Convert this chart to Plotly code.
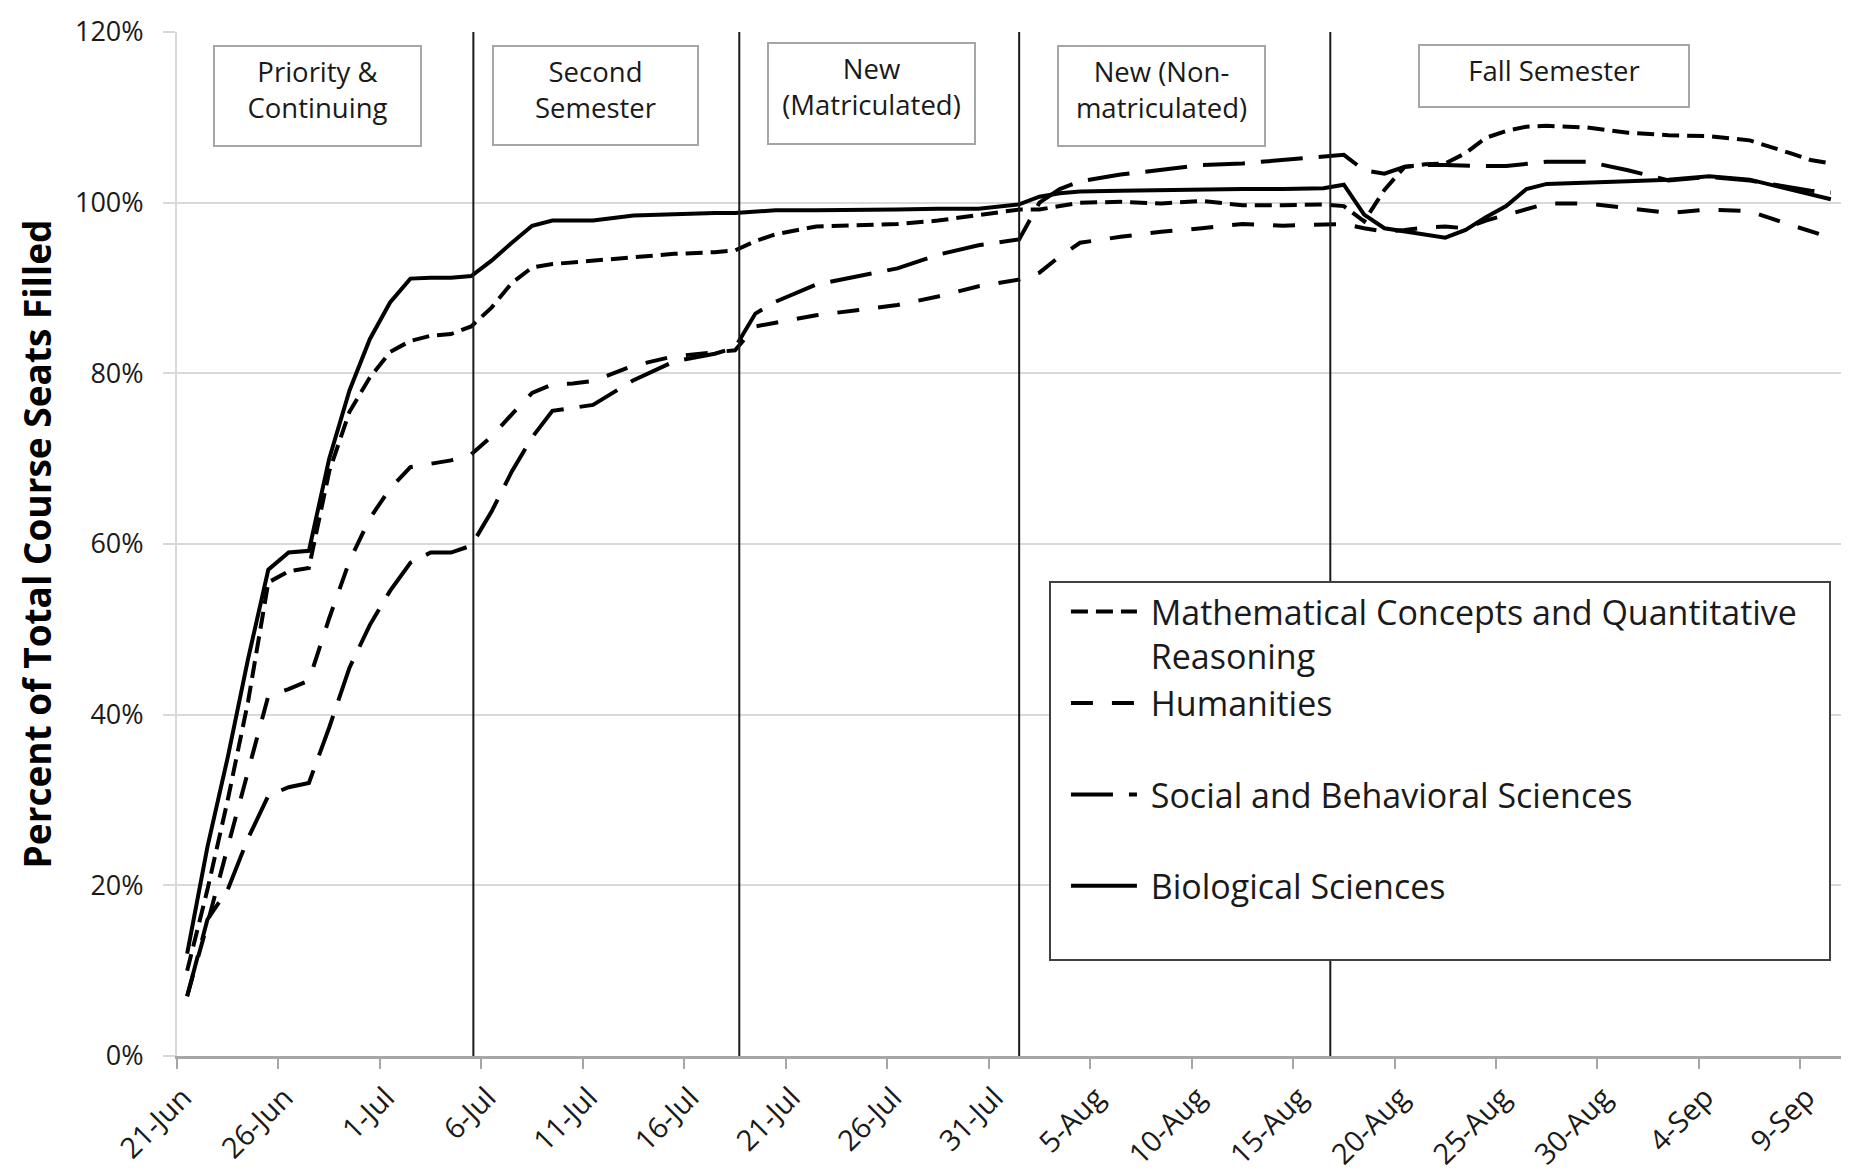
import pandas as pd
import plotly.graph_objects as go

# ---------------- data (percent of total course seats filled) ----------------
dates = [
    "2013-06-21", "2013-06-22", "2013-06-23", "2013-06-24", "2013-06-25", "2013-06-26",
    "2013-06-27", "2013-06-28", "2013-06-29", "2013-06-30", "2013-07-01", "2013-07-02",
    "2013-07-03", "2013-07-04", "2013-07-05", "2013-07-06", "2013-07-07", "2013-07-08",
    "2013-07-09", "2013-07-10", "2013-07-11", "2013-07-13", "2013-07-15", "2013-07-17",
    "2013-07-18", "2013-07-19", "2013-07-20", "2013-07-22", "2013-07-24", "2013-07-26",
    "2013-07-28", "2013-07-30", "2013-08-01", "2013-08-02", "2013-08-03", "2013-08-04",
    "2013-08-06", "2013-08-08", "2013-08-10", "2013-08-12", "2013-08-14", "2013-08-16",
    "2013-08-17", "2013-08-18", "2013-08-19", "2013-08-20", "2013-08-21", "2013-08-22",
    "2013-08-23", "2013-08-24", "2013-08-25", "2013-08-26", "2013-08-27", "2013-08-29",
    "2013-08-31", "2013-09-02", "2013-09-04", "2013-09-06", "2013-09-08", "2013-09-09",
    "2013-09-10",
]

math_quant = [
    10, 19.5, 30, 41.5, 55.5, 56.8, 57.2, 68.5, 75.5, 79.5, 82.5, 83.8, 84.4, 84.6, 85.5,
    87.7, 90.6, 92.4, 92.8, 93.0, 93.2,
    93.7, 94.0, 94.2, 94.4, 95.5, 96.3,
    97.2, 97.4, 97.5, 97.9, 98.6,
    99.2, 99.2, 99.6, 100.0,
    100.1, 99.9, 100.2, 99.7, 99.7, 99.8,
    99.6, 97.8, 101.5, 104.2, 104.5, 104.6, 105.8, 107.6, 108.4, 108.9, 109.0,
    108.8, 108.2, 107.9, 107.8, 107.3, 105.8, 105.0, 104.6,
]

humanities = [
    7, 15.5, 24.5, 33.5, 42.2, 43, 44, 51.3, 58, 63, 66.5, 69, 69.4, 69.8, 70.5,
    72.6, 75.2, 77.7, 78.7, 78.8, 79.1,
    80.9, 82.0, 82.4, 82.7, 85.5, 85.9,
    86.8, 87.4, 88.0, 89.0, 90.2,
    91.0, 91.8, 93.7, 95.3,
    96.0, 96.6, 97.0, 97.5, 97.3, 97.4,
    97.5, 97.0, 96.6, 96.8, 97.1, 97.2, 97.0, 97.9, 98.6, 99.3, 99.9,
    99.9, 99.3, 98.8, 99.2, 99.0, 97.4, 96.6, 95.9,
]

social_behav = [
    7, 16, 19.5, 25.5, 30.5, 31.5, 32, 38.5, 45.5, 50.5, 54.5, 57.8, 59, 59, 59.8,
    63.8, 68.5, 72.5, 75.6, 76, 76.3,
    79.2, 81.4, 82.3, 83.0, 87, 88.4,
    90.4, 91.3, 92.3, 93.9, 95.0,
    95.7, 100, 101.6, 102.5,
    103.3, 103.9, 104.4, 104.6, 105.0, 105.3,
    105.6, 103.8, 103.4, 104.2, 104.4, 104.4, 104.3, 104.3, 104.3, 104.6, 104.8,
    104.8, 103.8, 102.6, 103.0, 102.6, 101.8, 101.4, 101.2,
]

biological = [
    12, 24.5, 35, 46.5, 57, 59, 59.2, 70, 78, 84, 88.3, 91.1, 91.2, 91.2, 91.4,
    93.2, 95.3, 97.3, 97.9, 97.9, 97.9,
    98.5, 98.7, 98.8, 98.8, 99.0, 99.1,
    99.1, 99.1, 99.2, 99.3, 99.3,
    99.8, 100.7, 101.1, 101.3,
    101.4, 101.5, 101.5, 101.6, 101.6, 101.7,
    102.1, 98.6, 97.0, 96.6, 96.2, 95.9, 96.8, 98.3, 99.6, 101.6, 102.2,
    102.3, 102.5, 102.7, 103.1, 102.7, 101.6, 101.0, 100.4,
]

NB = "\u00a0"
series_names = [
    NB + "Mathematical Concepts and Quantitative" + NB * 3 + "<br>" + NB + "Reasoning",
    NB + "Humanities<br>" + NB,
    NB + "Social and Behavioral Sciences<br>" + NB,
    NB + "Biological Sciences<br>" + NB,
]

# registration period boundaries and labels
phase_breaks = ["2013-07-05 14:30", "2013-07-18 17:00", "2013-08-01 12:00", "2013-08-16 20:00"]
phase_labels = [
    "Priority &amp;<br>Continuing",
    "Second<br>Semester",
    "New<br>(Matriculated)",
    "New (Non-<br>matriculated)",
    "Fall Semester",
]

y_tick_vals = [0, 20, 40, 60, 80, 100, 120]
y_tick_labels = ["0%", "20%", "40%", "60%", "80%", "100%", "120%"]

# ---------------- figure ----------------
FONT = "Open Sans"
x_vals = pd.to_datetime(dates) + pd.Timedelta(hours=12)

dash_styles = ["17px,8px", "22px,19px", "42px,16px", "solid"]

fig = go.Figure()
for name, vals, dash in zip(series_names, [math_quant, humanities, social_behav, biological], dash_styles):
    fig.add_trace(go.Scatter(
        x=x_vals, y=vals, name=name, mode="lines",
        line=dict(color="#000000", width=4, dash=dash),
    ))

for b in phase_breaks:
    fig.add_shape(type="line", xref="x", yref="y", x0=b, x1=b, y0=0, y1=120,
                  line=dict(color="#1a1a1a", width=2))

# label boxes: (center x paper, top y paper, total width px, total height px)
box_specs = [
    (0.0845, (1056 - 45) / 1024, 209, 102),
    (0.2518, (1056 - 45) / 1024, 207, 101),
    (0.4173, (1056 - 42) / 1024, 209, 103),
    (0.5918, (1056 - 45) / 1024, 209, 102),
    (0.8273, (1056 - 44) / 1024, 272, 64),
]
PAD, BW = 6, 2
for lab, (bx, by, bw, bh) in zip(phase_labels, box_specs):
    fig.add_annotation(
        text=lab, xref="paper", yref="paper", x=bx, y=by,
        xanchor="center", yanchor="top", showarrow=False,
        width=bw - 2 * PAD - 2 * BW, height=bh - 2 * PAD - 2 * BW,
        align="center", valign="top",
        bgcolor="#ffffff", bordercolor="#a6a6a6", borderwidth=BW, borderpad=PAD,
        font=dict(family=FONT, size=27.5, color="#1a1a1a"),
    )

fig.update_layout(
    width=1849, height=1175,
    margin=dict(l=177, r=8, t=32, b=119, autoexpand=False),
    paper_bgcolor="#ffffff", plot_bgcolor="#ffffff",
    font=dict(family=FONT, color="#1a1a1a"),
    showlegend=True,
    legend=dict(
        x=0.524, y=(1056 - 581) / 1024, xanchor="left", yanchor="top",
        bgcolor="#ffffff", bordercolor="#404040", borderwidth=2,
        font=dict(family=FONT, size=34, color="#1a1a1a"),
        itemwidth=66, indentation=15, valign="top", tracegroupgap=0, traceorder="normal",
    ),
    xaxis=dict(
        type="date",
        range=["2013-06-21", "2013-09-11"],
        tick0="2013-06-21", dtick=5 * 86400000, tickformat="%-d-%b",
        tickangle=-45, ticks="outside", ticklen=10, tickwidth=2, tickcolor="#a6a6a6",
        showline=True, linecolor="#a6a6a6", linewidth=3,
        showgrid=False, zeroline=False, automargin=False,
        ticklabelshift=6,
        tickfont=dict(family=FONT, size=29, color="#1a1a1a"),
    ),
    yaxis=dict(
        range=[0, 120], tickvals=y_tick_vals, ticktext=y_tick_labels,
        ticks="outside", ticklen=12, tickwidth=2, tickcolor="#d9d9d9",
        showline=True, linecolor="#d9d9d9", linewidth=2,
        showgrid=True, gridcolor="#d9d9d9", gridwidth=2, zeroline=False,
        automargin=False, ticklabelstandoff=14,
        tickfont=dict(family=FONT, size=27, color="#1a1a1a"),
        title=dict(text="<b>Percent of Total Course Seats Filled</b>", standoff=12,
                   font=dict(family=FONT, size=37, color="#000000")),
    ),
)

fig.write_html("out.html", config={"displayModeBar": False},
               post_script="document.body.style.margin='0';")
